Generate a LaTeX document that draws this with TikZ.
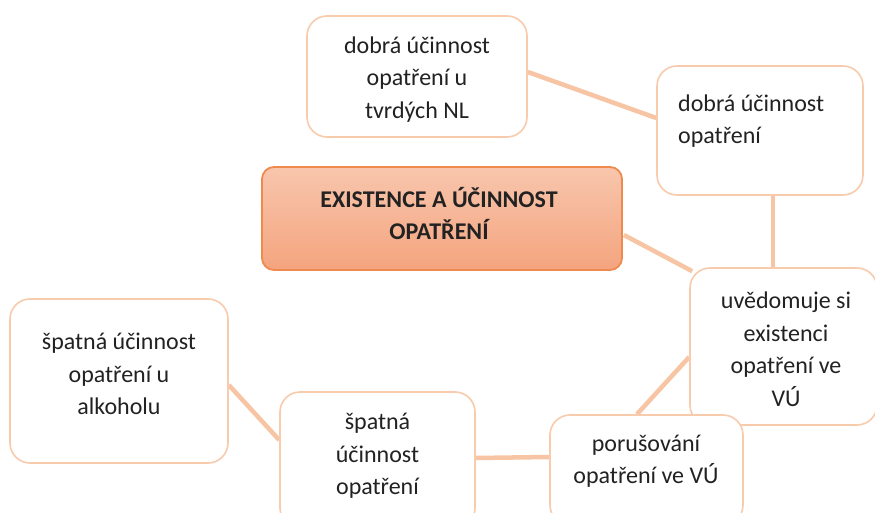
\documentclass[tikz,border=0pt]{standalone}
\usepackage{fontspec}
\setmainfont{Carlito}
\usetikzlibrary{calc,backgrounds}
\definecolor{peach}{HTML}{F8CBAD}
\definecolor{linkpeach}{HTML}{F7C5A4}
\definecolor{titleedge}{HTML}{EE8A4E}
\definecolor{titletop}{HTML}{F8C6AD}
\definecolor{titlebottom}{HTML}{F4A47E}
\definecolor{ink}{HTML}{222222}
\tikzset{
  box/.style={draw=peach, line width=1.6pt, fill=white, rounded corners=20pt,
    rectangle, inner sep=0pt},
  titlebox/.style={draw=titleedge, line width=1.8pt, rounded corners=12pt,
    rectangle, inner sep=0pt, top color=titletop, bottom color=titlebottom},
  txt/.style={text=ink, align=center, inner sep=0pt,
    font=\fontsize{24}{32.5}\selectfont},
  link/.style={draw=linkpeach, line width=4.5pt},
}
\begin{document}
\begin{tikzpicture}[x=1pt,y=-1pt]
\useasboundingbox (0,0) rectangle (875,513);
\clip (0,0) rectangle (875,513);

% boxes
\node[box, minimum width=220pt, minimum height=121pt] (b1) at (417,76.5) {};
\node[box, minimum width=206pt, minimum height=129pt] (b2) at (760,130.5) {};
\node[titlebox, minimum width=360pt, minimum height=103pt] (main) at (442,218.5) {};
\node[box, minimum width=187pt, minimum height=157pt] (b3) at (783.5,346.5) {};
\node[box, minimum width=193pt, minimum height=110pt] (b4) at (646.5,470) {};
\node[box, minimum width=195pt, minimum height=136pt] (b5) at (377.5,460) {};
\node[box, minimum width=218pt, minimum height=164pt] (b6) at (119,381) {};

% links between the boxes, kept behind them
\begin{scope}[on background layer]
\fill[white] (0,0) rectangle (875,513);
\draw[link] ($(b1.east)+(0,-4.5)$) -- ($(b2.west)+(0,-12.5)$);
\draw[link] ($(b2.south)+(13,0)$) -- ($(b3.north)+(-10.5,0)$);
\draw[link] ($(main.east)+(1,16.5)$) -- ($(b3.north west)+(3,4)$);
\draw[link] ($(b3.west)+(0,10.5)$) -- ($(b4.north)+(-9.5,0)$);
\draw[link] ($(b5.east)+(0,-2)$) -- ($(b4.west)+(0,-13)$);
\draw[link] ($(b6.east)+(0,4)$) -- ($(b5.west)+(0,-20)$);
\end{scope}

% texts
\node[txt] (t1) at (417,79.5) {dobrá účinnost\\opatření u\\tvrdých NL};
\node[txt, align=left, anchor=west] (t2) at (678,121) {dobrá účinnost\\opatření};
\node[txt, font=\bfseries\fontsize{24}{32}\selectfont] (tm) at (439,214) {EXISTENCE A ÚČINNOST\\OPATŘENÍ};
\node[txt] (t3) at (786,349.5) {uvědomuje si\\existenci\\opatření ve\\VÚ};
\node[txt] (t4) at (646,461) {porušování\\opatření ve VÚ};
\node[txt] (t5) at (377.5,456) {špatná\\účinnost\\opatření};
\node[txt] (t6) at (119,374) {špatná účinnost\\opatření u\\alkoholu};
\end{tikzpicture}
\end{document}
